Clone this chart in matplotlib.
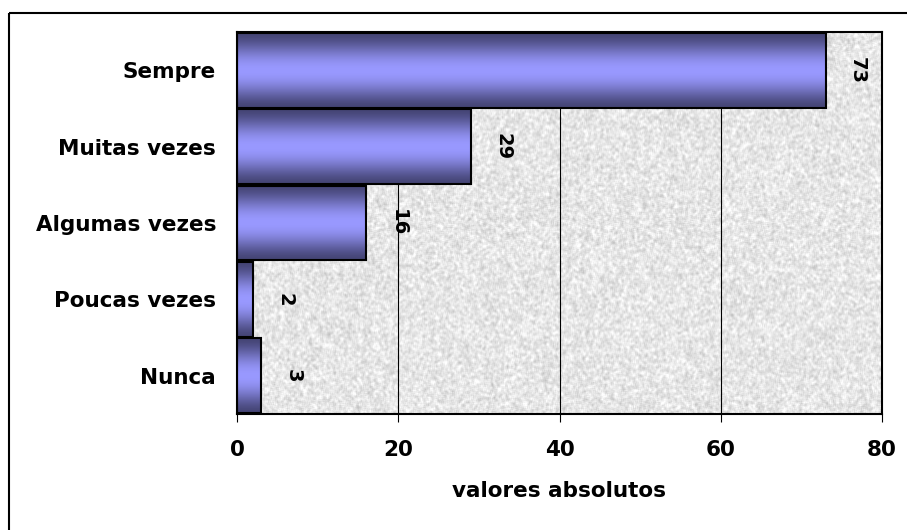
import numpy as np
import matplotlib
matplotlib.use("Agg")
import matplotlib.pyplot as plt
from matplotlib.lines import Line2D

# Survey answers and their absolute counts
categories = ["Nunca", "Poucas vezes", "Algumas vezes", "Muitas vezes", "Sempre"]
values = [3, 2, 16, 29, 73]
x_ticks = [0, 20, 40, 60, 80]
x_label = "valores absolutos"

plt.rcParams["font.family"] = ["DejaVu Sans"]
plt.rcParams["font.weight"] = "bold"

W, H, DPI = 907, 530, 100
fig = plt.figure(figsize=(W / DPI, H / DPI), dpi=DPI)
fig.patch.set_facecolor("white")

ax = fig.add_axes([237 / W, 1 - 414 / H, (882 - 237) / W, (414 - 32) / H])

# granite-like plot area background
rng = np.random.default_rng(7)
noise = rng.random((380, 645))
k = np.ones(3) / 3
noise = np.apply_along_axis(lambda r: np.convolve(r, k, mode="same"), 1, noise)
noise = np.apply_along_axis(lambda c: np.convolve(c, k, mode="same"), 0, noise)
noise = (noise - noise.min()) / (noise.max() - noise.min())
tex = np.clip(0.74 + 0.32 * noise, 0, 1)
ax.imshow(np.dstack([tex, tex, tex]), extent=[0, 1, 0, 1], transform=ax.transAxes,
          aspect="auto", interpolation="bilinear", zorder=0)

# vertical gridlines
for xv in x_ticks[1:-1]:
    ax.axvline(xv, color="black", lw=0.8, zorder=1)

ypos = np.arange(len(categories))
bars = ax.barh(ypos, values, height=0.98, facecolor="none", edgecolor="black",
               linewidth=1.5, zorder=3)

# cylinder-like shading inside each bar
dark = np.array([0.27, 0.27, 0.46])
light = np.array([0.60, 0.60, 1.00])
t = np.linspace(0, 1, 100)
shade = np.sin(np.pi * t) ** 1.6
grad = dark[None, :] + (light - dark)[None, :] * shade[:, None]
grad = grad[:, None, :]
for p in bars.patches:
    x0, y0, w, h = p.get_x(), p.get_y(), p.get_width(), p.get_height()
    ax.imshow(grad, extent=[x0, x0 + w, y0, y0 + h], aspect="auto",
              interpolation="bilinear", zorder=2)

# value labels, rotated
for yv, v in zip(ypos, values):
    ax.annotate(str(v), xy=(v, yv), xytext=(23, 0), textcoords="offset points",
                rotation=-90, ha="center", va="center", fontsize=14,
                fontweight="bold", zorder=4)

ax.set_xlim(0, 80)
ax.set_ylim(-0.5, len(categories) - 0.5)
ax.set_xticks(x_ticks)
ax.set_xticklabels([str(v) for v in x_ticks], fontsize=15.5, fontweight="bold")
ax.set_yticks(ypos)
ax.set_yticklabels(categories, fontsize=15.5, fontweight="bold")
ax.tick_params(axis="x", direction="out", length=6, width=0.8, pad=13)
ax.tick_params(axis="y", length=0, pad=15)
ax.set_xlabel(x_label, fontsize=15.5, fontweight="bold", labelpad=15)
for s in ax.spines.values():
    s.set_linewidth(1.5)
    s.set_color("black")
    s.set_zorder(5)

# outer chart frame
fig.add_artist(Line2D([8.5 / W, 8.5 / W], [0, 1 - 12.5 / H], transform=fig.transFigure,
                      color="black", lw=1.5, solid_capstyle="butt"))
fig.add_artist(Line2D([8.5 / W, 1], [1 - 12.5 / H, 1 - 12.5 / H], transform=fig.transFigure,
                      color="black", lw=1.5, solid_capstyle="butt"))

fig.savefig("out.png", dpi=DPI, facecolor="white")
